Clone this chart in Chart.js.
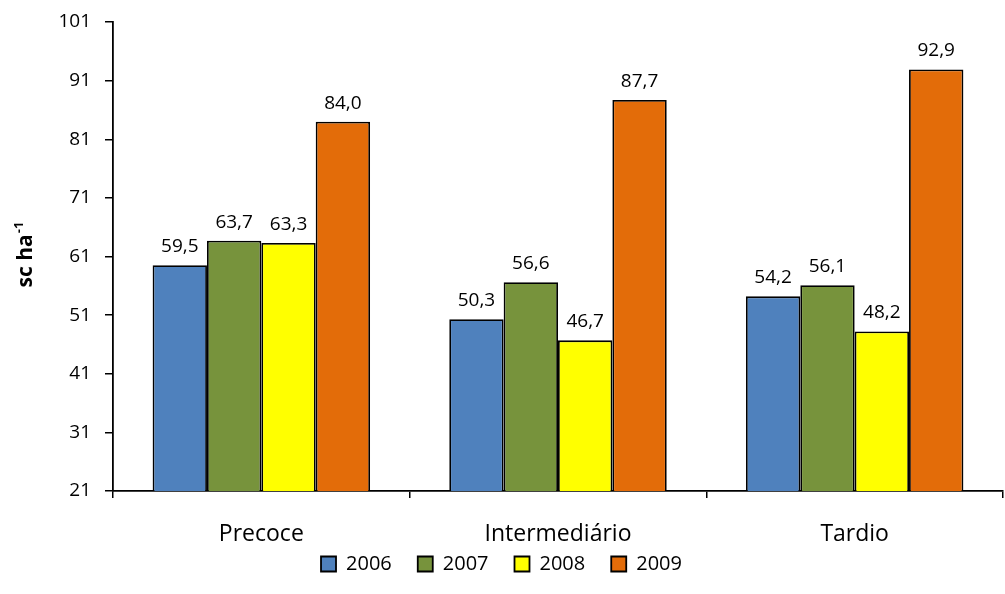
<!DOCTYPE html>
<html>
<head>
<meta charset="utf-8">
<script src="https://cdn.jsdelivr.net/npm/chart.js@4/dist/chart.umd.min.js"></script>
<style>
  html, body { margin: 0; padding: 0; background: #fff; }
  #wrap { width: 1005px; height: 594px; }
</style>
</head>
<body>
<div id="wrap"><canvas id="c" width="1005" height="594"></canvas></div>
<script>
const categories = ['Precoce', 'Intermediário', 'Tardio'];
const years = ['2006', '2007', '2008', '2009'];
const v2006 = [59.5, 50.3, 54.2];
const v2007 = [63.7, 56.6, 56.1];
const v2008 = [63.3, 46.7, 48.2];
const v2009 = [84.0, 87.7, 92.9];
const yTicks = [21, 31, 41, 51, 61, 71, 81, 91, 101];

const colors = ['#4F81BD', '#77933C', '#FFFF00', '#E36C09'];
const FONT = '"Open Sans", "DejaVu Sans", sans-serif';

// Value labels above each bar, decimal comma
const valueLabels = {
  id: 'valueLabels',
  afterDatasetsDraw(chart) {
    const ctx = chart.ctx;
    ctx.save();
    ctx.font = '19px ' + FONT;
    ctx.fillStyle = '#000';
    ctx.textAlign = 'center';
    ctx.textBaseline = 'bottom';
    chart.data.datasets.forEach((ds, i) => {
      chart.getDatasetMeta(i).data.forEach((bar, j) => {
        ctx.fillText(ds.data[j].toFixed(1).replace('.', ','), bar.x, bar.y - 9);
      });
    });
    ctx.restore();
  }
};

// Rotated axis title with superscript exponent
const yTitle = {
  id: 'yTitle',
  afterDraw(chart) {
    const ctx = chart.ctx;
    ctx.save();
    ctx.translate(32, 255);
    ctx.rotate(-Math.PI / 2);
    ctx.fillStyle = '#000';
    ctx.textBaseline = 'alphabetic';
    const main = 'sc ha';
    const sup = '-1';
    ctx.font = 'bold 21px ' + FONT;
    const w1 = ctx.measureText(main).width;
    ctx.font = 'bold 13px ' + FONT;
    const w2 = ctx.measureText(sup).width;
    const x0 = -(w1 + w2) / 2;
    ctx.font = 'bold 21px ' + FONT;
    ctx.textAlign = 'left';
    ctx.fillText(main, x0, 0);
    ctx.font = 'bold 13px ' + FONT;
    ctx.fillText(sup, x0 + w1 + 1, -9);
    ctx.restore();
  }
};

new Chart(document.getElementById('c'), {
  type: 'bar',
  data: {
    labels: categories,
    datasets: [v2006, v2007, v2008, v2009].map((d, i) => ({
      label: years[i],
      data: d,
      backgroundColor: colors[i],
      borderColor: '#000',
      borderWidth: 1.8,
      categoryPercentage: 0.733,
      barPercentage: 1.0
    }))
  },
  options: {
    responsive: false,
    animation: false,
    layout: { padding: { left: 0, right: 2, top: 22, bottom: 10 } },
    plugins: {
      tooltip: { enabled: false },
      legend: {
        position: 'bottom',
        labels: {
          font: { family: FONT, size: 20 },
          color: '#000',
          boxWidth: 15,
          boxHeight: 15,
          padding: 26
        }
      }
    },
    scales: {
      x: {
        afterFit: s => {
          s.height = 37;
          // category names sit below the axis box; let them draw past it
          s._computeLabelArea = () => undefined;
        },
        grid: { offset: true, drawOnChartArea: false, drawTicks: true, tickLength: 7, color: '#000', lineWidth: 1.5 },
        border: { display: true, color: '#000', width: 1.8 },
        ticks: { color: '#000', font: { family: FONT, size: 23 }, padding: 23 }
      },
      y: {
        min: 21,
        max: 101,
        afterFit: s => { s.width = 113; s.paddingTop = 0; s.paddingBottom = 0; },
        afterBuildTicks: s => { s.ticks = yTicks.map(v => ({ value: v })); },
        grid: { drawOnChartArea: false, drawTicks: true, tickLength: 8, color: '#000', lineWidth: 1.5 },
        border: { display: true, color: '#000', width: 1.8 },
        ticks: { color: '#000', font: { family: FONT, size: 19 }, padding: 14 }
      }
    }
  },
  plugins: [valueLabels, yTitle]
});
</script>
</body>
</html>
